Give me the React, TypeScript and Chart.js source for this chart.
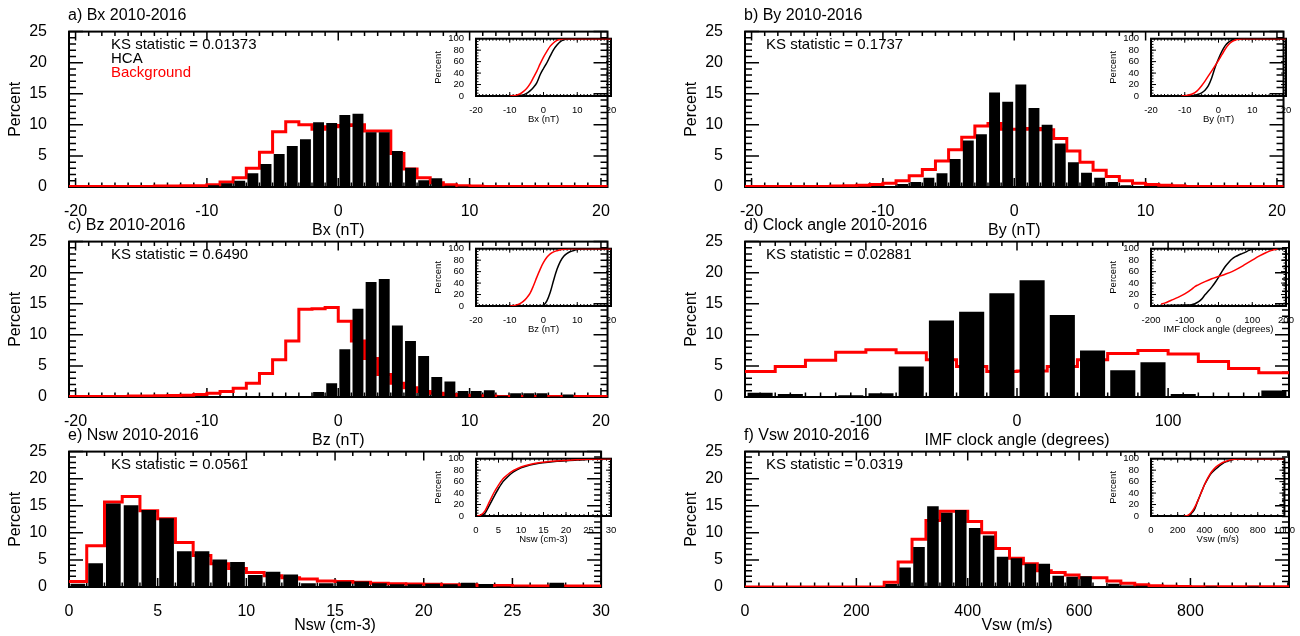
import React, { useEffect, useRef } from 'react';
import { Chart, registerables } from 'chart.js';

Chart.register(...registerables);

const FONT = "'Liberation Sans', Arial, Helvetica, sans-serif";
const RED = 'rgb(255,0,0)';
Chart.defaults.font.family = FONT;
Chart.defaults.color = '#000';

// ---------------- tick labels ----------------
const percentTicks = [0, 5, 10, 15, 20, 25];
const cdfPercentTicks = [0, 20, 40, 60, 80, 100];
const bTicks = [-20, -10, 0, 10, 20];
const clockTicks = [-100, 0, 100];
const clockCdfTicks = [-200, -100, 0, 100, 200];
const nswTicks = [0, 5, 10, 15, 20, 25, 30];
const vswTicks = [0, 200, 400, 600, 800];
const vswCdfTicks = [0, 200, 400, 600, 800, 1000];

// ---------------- histograms (percent per bin) ----------------
// Bx, 1 nT bins, first bin starts at -21 nT
const bxBinStart = -21;
const bxBinWidth = 1;
const bxHca = [
  0, 0, 0, 0, 0, 0, 0, 0, 0, 0, 0,
  0.3, 0.6, 1.0, 2.2, 3.7, 5.3, 6.6, 7.7, 10.4, 10.3,
  11.6, 11.8, 8.8, 8.8, 5.8, 3.1, 1.1, 1.4, 0.2, 0.1,
  0, 0, 0, 0, 0, 0, 0, 0, 0, 0, 0,
];
const bxBg = [
  0.1, 0.1, 0.1, 0.1, 0.1, 0.1, 0.1, 0.15, 0.15, 0.2, 0.2,
  0.37, 0.8, 1.5, 3.0, 5.6, 8.9, 10.5, 10.0, 9.3, 9.7,
  9.9, 10.0, 9.0, 9.0, 5.4, 2.9, 1.5, 0.7, 0.35, 0.2,
  0.15, 0.1, 0.1, 0.1, 0.1, 0.1, 0.1, 0.1, 0.1, 0.1, 0.1,
];

// By
const byBinStart = -21;
const byBinWidth = 1;
const byHca = [
  0, 0, 0, 0, 0, 0, 0, 0, 0, 0, 0,
  0.1, 0.5, 0.8, 1.5, 2.2, 4.5, 7.5, 8.5, 15.2, 13.7,
  16.5, 12.7, 10.0, 7.0, 4.0, 2.3, 1.5, 0.8, 0.3, 0.1,
  0, 0, 0, 0, 0, 0, 0, 0, 0, 0, 0,
];
const byBg = [
  0.1, 0.1, 0.1, 0.1, 0.1, 0.1, 0.1, 0.15, 0.2, 0.3, 0.4,
  0.6, 1.0, 1.8, 2.8, 4.2, 6.0, 8.0, 9.8, 10.2, 9.3,
  9.3, 9.4, 9.2, 7.8, 5.8, 4.0, 2.7, 1.7, 1.0, 0.6,
  0.4, 0.3, 0.2, 0.1, 0.1, 0.1, 0.1, 0.1, 0.1, 0.1, 0.1,
];

// Bz
const bzBinStart = -21;
const bzBinWidth = 1;
const bzHca = [
  0, 0, 0, 0, 0, 0, 0, 0, 0, 0, 0.05,
  0.05, 0.05, 0, 0.05, 0, 0.05, 0.05, 0.1, 0.8, 2.2,
  7.7, 14.2, 18.5, 19.0, 11.5, 9.0, 6.6, 3.2, 2.5, 0.95,
  0.95, 1.1, 0.2, 0.6, 0.6, 0.6, 0.1, 0.4, 0, 0, 0,
];
const bzBg = [
  0.1, 0.1, 0.1, 0.1, 0.1, 0.15, 0.15, 0.2, 0.25, 0.3, 0.4,
  0.6, 0.9, 1.4, 2.2, 3.8, 6.0, 9.0, 14.1, 14.2, 14.4,
  12.2, 9.0, 6.2, 3.6, 2.2, 1.5, 0.9, 0.6, 0.4, 0.3,
  0.2, 0.15, 0.1, 0.1, 0.1, 0.1, 0.1, 0.1, 0.1, 0.1, 0.1,
];

// IMF clock angle, 20 degree bins from -180
const clkBinStart = -180;
const clkBinWidth = 20;
const clkHca = [0.7, 0.5, 0.15, 0.3, 0.6, 4.9, 12.3, 13.7, 16.7, 18.8, 13.2, 7.5, 4.3, 5.6, 0.5, 0.05, 0, 1.05];
const clkBg = [4.1, 4.9, 5.9, 7.2, 7.6, 7.1, 6.0, 4.9, 4.1, 4.2, 4.9, 6.0, 7.0, 7.5, 6.9, 5.7, 4.6, 3.9];

// Nsw, 1 cm-3 bins from 0
const nswBinStart = 0;
const nswBinWidth = 1;
const nswHca = [
  0.6, 4.4, 15.4, 15.1, 14.2, 12.7, 6.6, 6.6, 5.1, 4.6,
  2.2, 2.8, 2.3, 0.7, 0.7, 1.0, 1.0, 0.7, 0.5, 0.5,
  0.6, 0.5, 0.8, 0.55, 0.1, 0.05, 0, 0.8, 0, 0,
];
const nswBg = [
  1.0, 7.6, 15.7, 16.7, 14.1, 12.6, 8.2, 5.8, 4.3, 3.4,
  2.7, 2.1, 1.7, 1.5, 1.1, 1.0, 0.9, 0.7, 0.6, 0.55,
  0.5, 0.4, 0.4, 0.3, 0.3, 0.2, 0.2, 0.2, 0.2, 0.2,
];

// Vsw, 25 km/s bins from 0
const vswBinStart = 0;
const vswBinWidth = 25;
const vswHca = [
  0, 0, 0, 0, 0, 0, 0, 0, 0, 0,
  0.55, 3.6, 7.4, 14.9, 13.7, 14.2, 10.9, 9.5, 5.6, 5.3,
  4.3, 4.3, 2.1, 1.9, 2.0, 0, 0.6, 0.3, 0.25, 0,
  0, 0, 0, 0.1, 0, 0, 0.1, 0, 0, 0,
];
const vswBg = [
  0, 0, 0, 0, 0, 0, 0, 0, 0, 0,
  0.9, 4.6, 8.8, 12.3, 14.0, 14.0, 12.1, 10.0, 7.1, 5.3,
  4.3, 3.0, 2.7, 2.2, 1.7, 1.7, 1.1, 0.7, 0.4, 0.25,
  0.15, 0.1, 0.05, 0.05, 0.05, 0.05, 0.05, 0.05, 0.05, 0.05,
];

// ---------------- cumulative distributions (x, percent) ----------------
const bxCdfHca = [[-9, 0], [-7, 0.8], [-6, 2], [-5, 4.5], [-4, 9], [-3, 15], [-2, 23], [-1, 37], [0, 48], [1, 58], [2, 70], [3, 81], [4, 89], [5, 95], [6, 98], [7, 99.5], [9, 100], [20, 100]];
const bxCdfBg = [[-10, 0], [-9, 0.5], [-8, 1.5], [-7, 3.5], [-6, 7.5], [-5, 13], [-4, 21], [-3, 32], [-2, 43], [-1, 56], [0, 68], [1, 78], [2, 87], [3, 93], [4, 97], [5, 99], [6, 99.8], [8, 100], [20, 100]];
const byCdfHca = [[-9, 0], [-8, 0.5], [-7, 1.5], [-6, 3], [-5, 5.5], [-4, 10], [-3, 18], [-2, 32], [-1, 50], [0, 65], [1, 78], [2, 88], [3, 94], [4, 97.5], [5, 99.3], [6, 100], [20, 100]];
const byCdfBg = [[-11, 0], [-10, 0.5], [-9, 1.5], [-8, 3], [-7, 6], [-6, 11], [-5, 18], [-4, 26], [-3, 35], [-2, 44], [-1, 53], [0, 62], [1, 72], [2, 82], [3, 90], [4, 95], [5, 97.8], [6, 99.2], [7, 99.8], [8, 100], [20, 100]];
const bzCdfHca = [[-1, 0], [0, 1.5], [1, 9], [2, 24], [3, 45], [4, 64], [5, 78], [6, 87], [7, 92], [8, 95], [9, 97], [10, 98.5], [12, 99.8], [14, 100], [20, 100]];
const bzCdfBg = [[-10, 0], [-9, 0.5], [-8, 2], [-7, 4], [-6, 8], [-5, 14], [-4, 22], [-3, 35], [-2, 50], [-1, 64], [0, 76], [1, 85], [2, 91], [3, 94.5], [4, 96.5], [5, 98], [6, 99], [8, 100], [20, 100]];
const clkCdfHca = [[-180, 0], [-160, 0.7], [-140, 1.1], [-120, 1.3], [-100, 1.7], [-80, 2.3], [-70, 4], [-60, 7], [-50, 12], [-40, 19.5], [-30, 26], [-20, 33], [-10, 41], [0, 50], [10, 60], [20, 69], [30, 76], [40, 82], [50, 86], [60, 89], [70, 91.5], [80, 94], [90, 97], [100, 99], [120, 99.3], [160, 99.3], [180, 100]];
const clkCdfBg = [[-170, 3.5], [-160, 5], [-140, 10], [-120, 15], [-100, 21], [-80, 29], [-70, 34], [-60, 37], [-40, 42.5], [-20, 47.5], [0, 51.5], [20, 55.5], [40, 60], [60, 66], [80, 73], [100, 80], [120, 87], [140, 93], [160, 97.5], [175, 100]];
const nswCdfHca = [[0.5, 0], [1, 1], [2, 5], [3, 19], [4, 34], [5, 48], [6, 60], [7, 68], [8, 75], [9, 80], [10, 84], [12, 89], [14, 92], [16, 94], [18, 95.5], [20, 96.5], [22, 97.5], [25, 98.8], [28, 99.5], [30, 100]];
const nswCdfBg = [[0.3, 0], [1, 1.5], [2, 9], [3, 25], [4, 41], [5, 54], [6, 65], [7, 72], [8, 78], [9, 82], [10, 85.5], [12, 90], [14, 93], [16, 94.8], [18, 96], [20, 97], [22, 98], [25, 99], [28, 99.6], [30, 100]];
const vswCdfHca = [[250, 0], [275, 0.5], [300, 4], [325, 11], [350, 26], [375, 40], [400, 54], [425, 65], [450, 74], [475, 80], [500, 85], [525, 89.5], [550, 93.5], [575, 95.5], [600, 97.5], [625, 99], [650, 99.2], [700, 99.8], [750, 100], [1000, 100]];
const vswCdfBg = [[250, 0], [275, 1], [300, 5.5], [325, 14], [350, 26], [375, 40], [400, 54], [425, 66], [450, 76], [475, 83], [500, 88], [525, 92], [550, 94.5], [575, 96.5], [600, 98], [650, 99.3], [700, 99.8], [750, 100], [1000, 100]];

// ---------------- IDL-style frame with inward ticks ----------------
const idlAxes = {
  id: 'idlAxes',
  beforeDatasetsDraw(chart: any, _args: any, o: any) {
    const { ctx, chartArea: a } = chart;
    const xs = chart.scales.x;
    const ys = chart.scales.y;
    ctx.save();
    ctx.strokeStyle = '#000';
    ctx.lineWidth = o.tickWidth;
    ctx.beginPath();
    const xTick = (v: number, len: number) => {
      const px = xs.getPixelForValue(v);
      if (px < a.left - 0.5 || px > a.right + 0.5) return;
      ctx.moveTo(px, a.bottom);
      ctx.lineTo(px, a.bottom - len);
      ctx.moveTo(px, a.top);
      ctx.lineTo(px, a.top + len);
    };
    const yTick = (v: number, len: number) => {
      const py = ys.getPixelForValue(v);
      ctx.moveTo(a.left, py);
      ctx.lineTo(a.left + len, py);
      ctx.moveTo(a.right, py);
      ctx.lineTo(a.right - len, py);
    };
    for (let i = Math.ceil(xs.min / o.xMinor - 1e-6); i * o.xMinor <= xs.max + 1e-6; i++) xTick(i * o.xMinor, o.xMinorLen);
    xs.ticks.forEach((t: any) => xTick(t.value, o.xMajorLen));
    for (let i = Math.ceil(ys.min / o.yMinor - 1e-6); i * o.yMinor <= ys.max + 1e-6; i++) yTick(i * o.yMinor, o.yMinorLen);
    ys.ticks.forEach((t: any) => yTick(t.value, o.yMajorLen));
    ctx.stroke();
    ctx.lineWidth = o.frameWidth;
    ctx.strokeRect(a.left, a.top, a.right - a.left, a.bottom - a.top);
    ctx.restore();
  },
};

const fixedTicks = (vals: number[]) => (s: any) => {
  s.ticks = vals.map((v) => ({ value: v }));
};

// ---------------- histogram panel ----------------
type HistProps = {
  left: number; top: number; w: number; h: number; xh: number;
  binStart: number; binWidth: number; hca: number[]; bg: number[];
  xMin: number; xMax: number; xTicks: number[]; xMinor: number; xTitle: string;
};

function HistPanel(p: HistProps) {
  const ref = useRef<HTMLCanvasElement | null>(null);
  const YW = 69, PT = 27, PR = 12, XH = p.xh;
  const cw = YW + p.w + PR;
  const ch = PT + p.h + XH;
  useEffect(() => {
    const bars = p.hca.map((v, i) => ({ x: p.binStart + (i + 0.5) * p.binWidth, y: v }));
    const steps = p.bg.map((v, i) => ({ x: p.binStart + i * p.binWidth, y: v }));
    steps.push({ x: p.binStart + p.bg.length * p.binWidth, y: p.bg[p.bg.length - 1] });
    const chart = new Chart(ref.current as HTMLCanvasElement, {
      type: 'bar',
      data: {
        datasets: [
          {
            type: 'bar', data: bars as any, backgroundColor: '#000', borderWidth: 0,
            barPercentage: 0.83, categoryPercentage: 1, order: 0,
          } as any,
          {
            type: 'line', data: steps as any, borderColor: RED, borderWidth: 3, stepped: true,
            pointRadius: 0, fill: false, order: 1, borderJoinStyle: 'miter',
          } as any,
        ],
      },
      options: {
        animation: false, responsive: false, events: [],
        layout: { padding: { top: PT, right: PR, left: 0, bottom: 0 } },
        plugins: {
          legend: { display: false }, tooltip: { enabled: false },
          idlAxes: {
            frameWidth: 2, tickWidth: 1.5,
            xMinor: p.xMinor, xMinorLen: 4.5, xMajorLen: 9,
            yMinor: 1, yMinorLen: 7, yMajorLen: 14,
          },
        } as any,
        scales: {
          x: {
            type: 'linear', min: p.xMin, max: p.xMax, offset: false,
            grid: { display: false, drawTicks: false }, border: { display: false },
            afterBuildTicks: fixedTicks(p.xTicks),
            afterFit: (s: any) => { s.height = XH; },
            ticks: { padding: 15, font: { size: 16 }, color: '#000', maxRotation: 0, autoSkip: false, callback: (v: any) => String(v) },
            title: { display: true, text: p.xTitle, font: { size: 16 }, color: '#000', padding: { top: 0, bottom: 5 } },
          },
          y: {
            type: 'linear', min: 0, max: 25,
            grid: { display: false, drawTicks: false }, border: { display: false },
            afterBuildTicks: fixedTicks(percentTicks),
            afterFit: (s: any) => { s.width = YW; },
            ticks: { padding: 22, font: { size: 16 }, color: '#000', autoSkip: false, callback: (v: any) => String(v) },
            title: { display: true, text: 'Percent', font: { size: 16 }, color: '#000', padding: { top: 6, bottom: 0 } },
          },
        } as any,
      },
      plugins: [idlAxes as any],
    });
    return () => chart.destroy();
  }, []);
  return (
    <canvas
      ref={ref}
      width={cw}
      height={ch}
      style={{ position: 'absolute', left: p.left - YW, top: p.top - PT, width: cw, height: ch }}
    />
  );
}

// ---------------- CDF inset ----------------
type InsetProps = {
  left: number; top: number; w: number; h: number;
  xMin: number; xMax: number; xTicks: number[]; xMinor: number; xTitle: string;
  hca: number[][]; bg: number[][];
};

function CdfInset(p: InsetProps) {
  const ref = useRef<HTMLCanvasElement | null>(null);
  const YW = 50, PT = 6, PR = 18, XH = 31;
  const cw = YW + p.w + PR;
  const ch = PT + p.h + XH;
  useEffect(() => {
    const chart = new Chart(ref.current as HTMLCanvasElement, {
      type: 'scatter',
      data: {
        datasets: [
          {
            data: p.hca.map(([x, y]) => ({ x, y })), showLine: true, borderColor: '#000', borderWidth: 1.5,
            pointRadius: 0, cubicInterpolationMode: 'monotone', order: 1,
          } as any,
          {
            data: p.bg.map(([x, y]) => ({ x, y })), showLine: true, borderColor: RED, borderWidth: 1.5,
            pointRadius: 0, cubicInterpolationMode: 'monotone', order: 0,
          } as any,
        ],
      },
      options: {
        animation: false, responsive: false, events: [],
        layout: { padding: { top: PT, right: PR, left: 0, bottom: 0 } },
        plugins: {
          legend: { display: false }, tooltip: { enabled: false },
          idlAxes: {
            frameWidth: 2, tickWidth: 1,
            xMinor: p.xMinor, xMinorLen: 2, xMajorLen: 4,
            yMinor: 5, yMinorLen: 2.5, yMajorLen: 5,
          },
        } as any,
        scales: {
          x: {
            type: 'linear', min: p.xMin, max: p.xMax,
            grid: { display: false, drawTicks: false }, border: { display: false },
            afterBuildTicks: fixedTicks(p.xTicks),
            afterFit: (s: any) => { s.height = XH; },
            ticks: { padding: 9, font: { size: 9.5 }, color: '#000', maxRotation: 0, autoSkip: false, callback: (v: any) => String(v) },
            title: { display: true, text: p.xTitle, font: { size: 9.5 }, color: '#000', padding: { top: 0, bottom: 2 } },
          },
          y: {
            type: 'linear', min: 0, max: 100,
            grid: { display: false, drawTicks: false }, border: { display: false },
            afterBuildTicks: fixedTicks(cdfPercentTicks),
            afterFit: (s: any) => { s.width = YW; },
            ticks: { padding: 12, font: { size: 9.5 }, color: '#000', autoSkip: false, callback: (v: any) => String(v) },
            title: { display: true, text: 'Percent', font: { size: 9.5 }, color: '#000', padding: { top: 7, bottom: 0 } },
          },
        } as any,
      },
      plugins: [idlAxes as any],
    });
    return () => chart.destroy();
  }, []);
  return (
    <canvas
      ref={ref}
      width={cw}
      height={ch}
      style={{ position: 'absolute', left: p.left - YW, top: p.top - PT, width: cw, height: ch }}
    />
  );
}

function Txt({ x, y, size, color = '#000', children }: any) {
  return (
    <div
      style={{
        position: 'absolute', left: x, top: y - size / 2, fontFamily: FONT, fontSize: size,
        lineHeight: `${size}px`, color, whiteSpace: 'nowrap',
      }}
    >
      {children}
    </div>
  );
}

// ---------------- layout ----------------
const LCOL = 69, RCOL = 745, PW = 544;
const ROWS = [
  { top: 27, h: 160, xh: 58 },
  { top: 237, h: 160, xh: 58 },
  { top: 447, h: 140, xh: 53 },
];
const ILEFT = 476, IRIGHT = 1151, IW = 135, IH = 69;

export default function App() {
  return (
    <div style={{ position: 'absolute', left: 0, top: 0, width: 1300, height: 636, background: '#fff', overflow: 'hidden' }}>
      {/* a) Bx */}
      <HistPanel left={LCOL} top={ROWS[0].top} w={PW} h={ROWS[0].h} xh={ROWS[0].xh} binStart={bxBinStart} binWidth={bxBinWidth}
        hca={bxHca} bg={bxBg} xMin={-20.5} xMax={20.5} xTicks={bTicks} xMinor={1} xTitle="Bx (nT)" />
      {/* b) By */}
      <HistPanel left={RCOL} top={ROWS[0].top} w={PW} h={ROWS[0].h} xh={ROWS[0].xh} binStart={byBinStart} binWidth={byBinWidth}
        hca={byHca} bg={byBg} xMin={-20.5} xMax={20.5} xTicks={bTicks} xMinor={1} xTitle="By (nT)" />
      {/* c) Bz */}
      <HistPanel left={LCOL} top={ROWS[1].top} w={PW} h={ROWS[1].h} xh={ROWS[1].xh} binStart={bzBinStart} binWidth={bzBinWidth}
        hca={bzHca} bg={bzBg} xMin={-20.5} xMax={20.5} xTicks={bTicks} xMinor={1} xTitle="Bz (nT)" />
      {/* d) clock angle */}
      <HistPanel left={RCOL} top={ROWS[1].top} w={PW} h={ROWS[1].h} xh={ROWS[1].xh} binStart={clkBinStart} binWidth={clkBinWidth}
        hca={clkHca} bg={clkBg} xMin={-180} xMax={180} xTicks={clockTicks} xMinor={10} xTitle="IMF clock angle (degrees)" />
      {/* e) Nsw */}
      <HistPanel left={LCOL} top={ROWS[2].top} w={PW} h={ROWS[2].h} xh={ROWS[2].xh} binStart={nswBinStart} binWidth={nswBinWidth}
        hca={nswHca} bg={nswBg} xMin={0} xMax={30} xTicks={nswTicks} xMinor={1} xTitle="Nsw (cm-3)" />
      {/* f) Vsw */}
      <HistPanel left={RCOL} top={ROWS[2].top} w={PW} h={ROWS[2].h} xh={ROWS[2].xh} binStart={vswBinStart} binWidth={vswBinWidth}
        hca={vswHca} bg={vswBg} xMin={0} xMax={977} xTicks={vswTicks} xMinor={25} xTitle="Vsw (m/s)" />

      <CdfInset left={ILEFT} top={ROWS[0].top} w={IW} h={IH} xMin={-20} xMax={20} xTicks={bTicks} xMinor={1} xTitle="Bx (nT)" hca={bxCdfHca} bg={bxCdfBg} />
      <CdfInset left={IRIGHT} top={ROWS[0].top} w={IW} h={IH} xMin={-20} xMax={20} xTicks={bTicks} xMinor={1} xTitle="By (nT)" hca={byCdfHca} bg={byCdfBg} />
      <CdfInset left={ILEFT} top={ROWS[1].top} w={IW} h={IH} xMin={-20} xMax={20} xTicks={bTicks} xMinor={1} xTitle="Bz (nT)" hca={bzCdfHca} bg={bzCdfBg} />
      <CdfInset left={IRIGHT} top={ROWS[1].top} w={IW} h={IH} xMin={-200} xMax={200} xTicks={clockCdfTicks} xMinor={10} xTitle="IMF clock angle (degrees)" hca={clkCdfHca} bg={clkCdfBg} />
      <CdfInset left={ILEFT} top={ROWS[2].top} w={IW} h={IH} xMin={0} xMax={30} xTicks={nswTicks} xMinor={1} xTitle="Nsw (cm-3)" hca={nswCdfHca} bg={nswCdfBg} />
      <CdfInset left={IRIGHT} top={ROWS[2].top} w={IW} h={IH} xMin={0} xMax={1000} xTicks={vswCdfTicks} xMinor={50} xTitle="Vsw (m/s)" hca={vswCdfHca} bg={vswCdfBg} />

      <Txt x={LCOL - 1} y={ROWS[0].top - 12} size={16}>a) Bx 2010-2016</Txt>
      <Txt x={RCOL - 1} y={ROWS[0].top - 12} size={16}>b) By 2010-2016</Txt>
      <Txt x={LCOL - 1} y={ROWS[1].top - 12} size={16}>c) Bz 2010-2016</Txt>
      <Txt x={RCOL - 1} y={ROWS[1].top - 12} size={16}>d) Clock angle 2010-2016</Txt>
      <Txt x={LCOL - 1} y={ROWS[2].top - 12} size={16}>e) Nsw 2010-2016</Txt>
      <Txt x={RCOL - 1} y={ROWS[2].top - 12} size={16}>f) Vsw 2010-2016</Txt>

      <Txt x={LCOL + 42} y={ROWS[0].top + 16} size={15}>KS statistic = 0.01373</Txt>
      <Txt x={LCOL + 42} y={ROWS[0].top + 30} size={15}>HCA</Txt>
      <Txt x={LCOL + 42} y={ROWS[0].top + 44} size={15} color={RED}>Background</Txt>
      <Txt x={RCOL + 21} y={ROWS[0].top + 16} size={15}>KS statistic = 0.1737</Txt>
      <Txt x={LCOL + 42} y={ROWS[1].top + 16} size={15}>KS statistic = 0.6490</Txt>
      <Txt x={RCOL + 21} y={ROWS[1].top + 16} size={15}>KS statistic = 0.02881</Txt>
      <Txt x={LCOL + 42} y={ROWS[2].top + 16} size={15}>KS statistic = 0.0561</Txt>
      <Txt x={RCOL + 21} y={ROWS[2].top + 16} size={15}>KS statistic = 0.0319</Txt>
    </div>
  );
}
